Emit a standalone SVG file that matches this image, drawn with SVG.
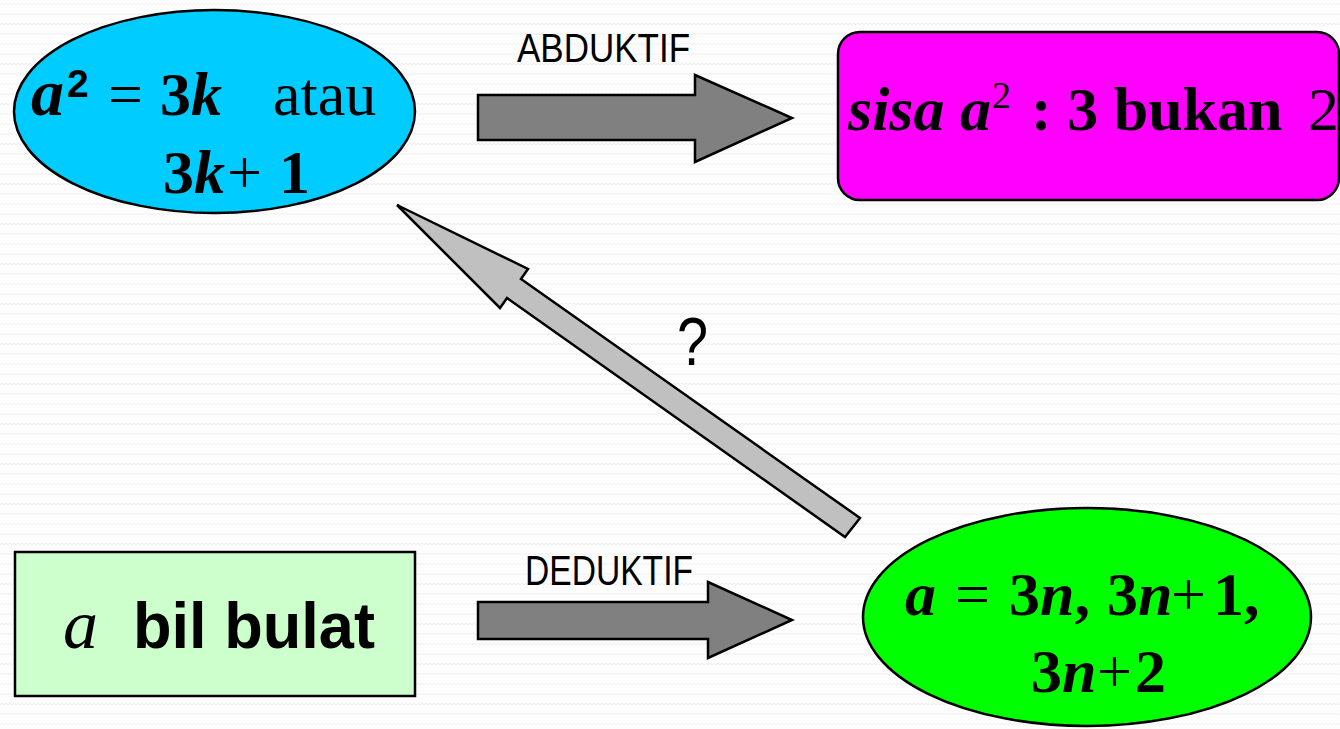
<svg xmlns="http://www.w3.org/2000/svg" width="1340" height="729" viewBox="0 0 1340 729">
<defs>
<pattern id="bg" width="8" height="10" patternUnits="userSpaceOnUse">
<rect width="8" height="10" fill="#fdfdfd"/>
<path d="M0 5 L2 3 L4 5 L6 3 L8 5" fill="none" stroke="#f0f0f0" stroke-width="1"/>
</pattern>
<style>
.shape{stroke:#000;stroke-width:2.5}
.arrow{stroke:#000;stroke-width:2.5;stroke-linejoin:miter}
.m{font-family:"Liberation Serif","Times New Roman",serif;font-size:62px;fill:#000}
.b{font-weight:bold}
.i{font-style:italic}
.lbl{font-family:"Liberation Sans",Arial,sans-serif;fill:#000}
</style>
</defs>
<rect width="1340" height="729" fill="url(#bg)"/>

<g id="connectors">
<polygon class="arrow" fill="#808080" points="478,95 695,95 695,75 792,118 695,162 695,140 478,140"/>
<polygon class="arrow" fill="#808080" points="478,602 708,602 708,582 792,620 708,658 708,639 478,639"/>
<polygon class="arrow" fill="#c0c0c0" points="860,518 521,279 528,269 397,205 500,308 507,298 845,537"/>
<text class="lbl" x="517" y="62" font-size="40" textLength="173" lengthAdjust="spacingAndGlyphs">ABDUKTIF</text>
<text class="lbl" x="525" y="585" font-size="42" textLength="168" lengthAdjust="spacingAndGlyphs">DEDUKTIF</text>
<text class="lbl" x="677" y="365" font-size="68" textLength="31" lengthAdjust="spacingAndGlyphs">?</text>
</g>

<g id="node-a2">
<ellipse class="shape" cx="214.5" cy="111.5" rx="200.5" ry="101.5" fill="#00ccff"/>
<text class="m b i" x="31" y="115" style="font-size:66px">a</text>
<text class="lbl b" x="67" y="97" font-size="39">2</text>
<text class="m" x="108" y="115">=</text>
<text class="m b" x="160" y="115">3<tspan class="i">k</tspan></text>
<text class="m" x="273" y="115">atau</text>
<text class="m b" x="163" y="193">3<tspan class="i">k</tspan></text>
<text class="m" x="227" y="193">+</text>
<text class="m b" x="279" y="193">1</text>
</g>

<g id="node-sisa">
<rect class="shape" x="838" y="32" width="501" height="168" rx="22" fill="#ff00ff"/>
<text class="m b i" x="848" y="130">sisa a</text>
<text class="m" x="992" y="108" style="font-size:38px">2</text>
<text class="m b" x="1031" y="130">: 3 bukan</text>
<text class="m" x="1308" y="130">2</text>
</g>

<g id="node-bilbulat">
<rect class="shape" x="15" y="552" width="400" height="144" fill="#ccffcc" stroke-width="2"/>
<text class="m i" x="63" y="648" style="font-size:70px">a</text>
<text class="lbl" x="133" y="648" font-size="64" font-weight="bold" textLength="242" lengthAdjust="spacingAndGlyphs">bil bulat</text>
</g>

<g id="node-a3n">
<ellipse class="shape" cx="1087" cy="617" rx="224" ry="109" fill="#00ff00"/>
<text class="m b i" x="905" y="615">a</text>
<text class="m" x="955" y="615">=</text>
<text class="m b" x="1009" y="615">3<tspan class="i">n</tspan>,</text>
<text class="m b" x="1107" y="615">3<tspan class="i">n</tspan></text>
<text class="m" x="1171" y="615">+</text>
<text class="m b" x="1213" y="615">1,</text>
<text class="m b" x="1031" y="692">3<tspan class="i">n</tspan></text>
<text class="m" x="1097" y="692">+</text>
<text class="m b" x="1135" y="692">2</text>
</g>
</svg>
